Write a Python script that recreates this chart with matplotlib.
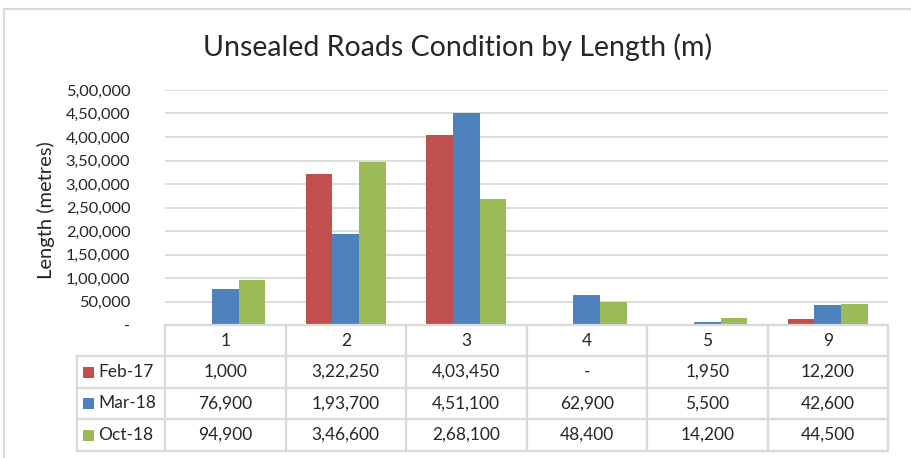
import matplotlib
matplotlib.use("Agg")
import matplotlib.pyplot as plt
from matplotlib.patches import Rectangle
from matplotlib.lines import Line2D

plt.rcParams['font.family'] = ['Lato', 'DejaVu Sans']

# ---- data ----
categories = ["1", "2", "3", "4", "5", "9"]
series_names = ["Feb-17", "Mar-18", "Oct-18"]
feb17 = [1000, 322250, 403450, 0, 1950, 12200]
mar18 = [76900, 193700, 451100, 62900, 5500, 42600]
oct18 = [94900, 346600, 268100, 48400, 14200, 44500]
series_values = [feb17, mar18, oct18]
colors = ["#C0504D", "#4F81BD", "#9BBB59"]
y_ticks = list(range(0, 500001, 50000))

title = "Unsealed Roads Condition by Length (m)"
y_label = "Length (metres)"


def indian_format(v):
    """Format an integer with Indian digit grouping (e.g. 3,22,250); zero as '-'."""
    if v == 0:
        return "-"
    s = str(int(v))
    if len(s) <= 3:
        return s
    head, tail = s[:-3], s[-3:]
    groups = []
    while len(head) > 2:
        groups.insert(0, head[-2:])
        head = head[:-2]
    if head:
        groups.insert(0, head)
    return ",".join(groups) + "," + tail


W, H = 911, 458
fig = plt.figure(figsize=(W / 100, H / 100), dpi=100)


def fx(px):
    return px / W


def fy(py):
    return 1 - py / H


grid_color = "#D9D9D9"
text_color = "#262626"

# outer chart frame
fig.add_artist(Line2D([fx(4), fx(4)], [fy(9), fy(470)], color=grid_color, lw=1.5))
fig.add_artist(Line2D([fx(4), fx(920)], [fy(9), fy(9)], color=grid_color, lw=1.5))

# ---- plot area ----
left, right, top, bottom = 165, 888, 90, 325
ax = fig.add_axes([fx(left), fy(bottom), (right - left) / W, (bottom - top) / H])
n = len(categories)
bw = 1 / 4.5
for i, (vals, col) in enumerate(zip(series_values, colors)):
    xs = [k + (i - 1) * bw for k in range(n)]
    ax.bar(xs, vals, width=bw, color=col, edgecolor="none", zorder=3)

ax.set_xlim(-0.5, n - 0.5)
ax.set_ylim(0, 500000)
ax.set_yticks(y_ticks)
ax.set_yticklabels([indian_format(v) for v in y_ticks])
ax.tick_params(axis="y", length=0, pad=25, labelsize=11.8, labelcolor=text_color)
ax.set_xticks([])
ax.grid(axis="y", color=grid_color, lw=1.3, zorder=0)
for s in ax.spines.values():
    s.set_visible(False)
for lbl in ax.get_yticklabels():
    lbl.set_horizontalalignment("right")

fig.text(fx(46), fy(210), y_label, rotation=90, ha="center", va="center",
         fontsize=14.5, color=text_color)
fig.text(fx(458), fy(47), title, ha="center", va="center",
         fontsize=20.5, color=text_color)

# ---- data table below the plot ----
tleft, ttop, tbot = 77, 325, 451
row_edges = [325, 356, 388, 419, 451]
tax = fig.add_axes([fx(tleft), fy(tbot), (right - tleft) / W, (tbot - ttop) / H])
tax.set_xlim(tleft, right)
tax.set_ylim(tbot, ttop)
tax.axis("off")

col_w = (right - left) / n
col_edges = [left + k * col_w for k in range(n + 1)]
lw = 1.6
# horizontal rules
tax.plot([left, right], [row_edges[0]] * 2, color=grid_color, lw=lw, clip_on=False)
for y in row_edges[1:]:
    tax.plot([tleft, right], [y, y], color=grid_color, lw=lw, clip_on=False)
# vertical rules
tax.plot([tleft, tleft], [row_edges[1], row_edges[-1]], color=grid_color, lw=lw, clip_on=False)
for x in col_edges:
    tax.plot([x, x], [row_edges[0], row_edges[-1]], color=grid_color, lw=lw, clip_on=False)

# header row
hy = (row_edges[0] + row_edges[1]) / 2
for k, c in enumerate(categories):
    tax.text(left + (k + 0.5) * col_w, hy, c, ha="center", va="center",
             fontsize=12.5, color=text_color)

# series rows with legend keys
for r, (name, vals, col) in enumerate(zip(series_names, series_values, colors)):
    cy = (row_edges[r + 1] + row_edges[r + 2]) / 2
    tax.add_patch(Rectangle((83, cy - 5.5), 11, 11, facecolor=col, edgecolor="none",
                            clip_on=False))
    tax.text(98, cy, name, ha="left", va="center", fontsize=12.5, color=text_color)
    for k, v in enumerate(vals):
        tax.text(left + (k + 0.5) * col_w, cy, indian_format(v), ha="center",
                 va="center", fontsize=12.5, color=text_color)

fig.savefig("out.png", dpi=100, facecolor="white")
